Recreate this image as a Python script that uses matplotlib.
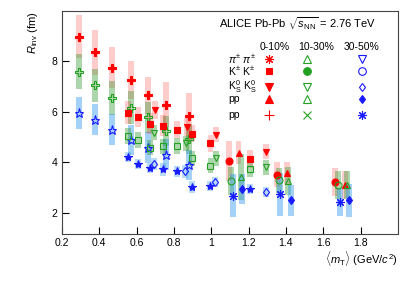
import matplotlib

matplotlib.use("Agg")
import matplotlib.pyplot as plt

plt.rcParams["font.family"] = ["Liberation Sans", "DejaVu Sans"]
plt.rcParams["mathtext.fontset"] = "custom"
plt.rcParams["mathtext.rm"] = "Liberation Sans"
plt.rcParams["mathtext.it"] = "Liberation Sans:italic"

RED = "#ff0000"
GREEN = "#22a022"
BLUE = "#1a1aff"
BAND_B = "#3399ee"

# pi pi
pi_c0_x = [0.29, 0.38, 0.47, 0.57, 0.66, 0.76, 0.88]
pi_c0_y = [8.99, 8.37, 7.76, 7.28, 6.66, 6.29, 5.83]
pi_c0_e = [0.87, 0.89, 0.82, 0.75, 0.74, 0.88, 0.94]
pi_c1_x = [0.29, 0.38, 0.47, 0.57, 0.66, 0.76, 0.88]
pi_c1_y = [7.60, 7.06, 6.55, 6.17, 5.78, 5.25, 4.92]
pi_c1_e = [0.71, 0.65, 0.68, 0.65, 0.62, 0.60, 0.60]
pi_c2_x = [0.29, 0.38, 0.47, 0.57, 0.66, 0.76, 0.88]
pi_c2_y = [5.97, 5.70, 5.29, 4.88, 4.59, 4.31, 3.89]
pi_c2_e = [0.63, 0.63, 0.62, 0.60, 0.60, 0.60, 0.60]
st_c2_x = [0.555, 0.608, 0.670, 0.740, 0.819, 0.898, 0.995, 1.21]
st_c2_y = [4.22, 3.95, 3.79, 3.72, 3.64, 3.03, 3.08, 2.95]
st_c2_e = [0.20, 0.20, 0.20, 0.25, 0.20, 0.25, 0.20, 0.20]

# K+- K+-
sq_c0_x = [0.555, 0.608, 0.670, 0.740, 0.819, 0.898, 0.996, 1.21]
sq_c0_y = [5.97, 5.80, 5.54, 5.46, 5.30, 5.14, 4.75, 4.13]
sq_c0_e = [0.45, 0.40, 0.40, 0.40, 0.35, 0.35, 0.35, 0.35]
sq_c1_x = [0.555, 0.608, 0.670, 0.740, 0.819, 0.898, 0.996, 1.21]
sq_c1_y = [5.05, 4.89, 4.59, 4.64, 4.65, 4.17, 3.86, 3.72]
sq_c1_e = [0.33, 0.30, 0.30, 0.30, 0.30, 0.30, 0.30, 0.30]
dm_c2_x = [0.691, 0.861, 1.021, 1.292]
dm_c2_y = [3.93, 3.65, 3.23, 2.81]
dm_c2_e = [0.25, 0.25, 0.20, 0.20]

# K0s K0s
dn_c0_x = [0.699, 0.869, 1.028, 1.292]
dn_c0_y = [6.08, 5.40, 5.10, 4.42]
dn_c0_e = [0.35, 0.35, 0.30, 0.30]
dn_c1_x = [0.692, 0.863, 1.028, 1.292]
dn_c1_y = [5.17, 4.75, 4.16, 3.80]
dn_c1_e = [0.30, 0.30, 0.30, 0.30]

# high mT
ci_c0_x = [1.096, 1.353, 1.665]
ci_c0_y = [4.05, 3.52, 3.23]
ci_c0_e = [0.80, 0.50, 0.55]
ci_c1_x = [1.107, 1.363, 1.677]
ci_c1_y = [3.27, 3.29, 3.10]
ci_c1_e = [0.55, 0.50, 0.55]
up_c0_x = [1.146, 1.404, 1.718]
up_c0_y = [4.38, 3.57, 3.10]
up_c0_e = [0.45, 0.45, 0.55]
up_c1_x = [1.158, 1.412, 1.727]
up_c1_y = [3.42, 3.27, 3.11]
up_c1_e = [0.90, 0.55, 0.55]
as_c2_x = [1.114, 1.368, 1.688]
as_c2_y = [2.68, 2.73, 2.44]
as_c2_e = [0.85, 0.85, 0.55]
fd_c2_x = [1.164, 1.425, 1.736]
fd_c2_y = [2.94, 2.49, 2.49]
fd_c2_e = [0.60, 0.60, 0.65]

ASTER = (8, 2, 0)

# (x, y, err, band colour, band alpha, marker, colour, filled, size)
SERIES = [
    (pi_c0_x, pi_c0_y, pi_c0_e, RED, 0.2, "P", RED, True, 5.5),
    (pi_c1_x, pi_c1_y, pi_c1_e, "#339933", 0.4, "P", GREEN, False, 5.5),
    (pi_c2_x, pi_c2_y, pi_c2_e, BAND_B, 0.45, "*", BLUE, False, 6.5),
    (st_c2_x, st_c2_y, st_c2_e, BAND_B, 0.35, "*", BLUE, True, 6),
    (sq_c0_x, sq_c0_y, sq_c0_e, RED, 0.2, "s", RED, True, 5),
    (sq_c1_x, sq_c1_y, sq_c1_e, "#339933", 0.4, "s", GREEN, False, 5),
    (dm_c2_x, dm_c2_y, dm_c2_e, BAND_B, 0.35, "d", BLUE, False, 4.5),
    (dn_c0_x, dn_c0_y, dn_c0_e, RED, 0.2, "v", RED, True, 5),
    (dn_c1_x, dn_c1_y, dn_c1_e, "#339933", 0.4, "v", GREEN, False, 5),
    (ci_c0_x, ci_c0_y, ci_c0_e, RED, 0.2, "o", RED, True, 5),
    (ci_c1_x, ci_c1_y, ci_c1_e, "#339933", 0.4, "o", GREEN, False, 5),
    (up_c0_x, up_c0_y, up_c0_e, RED, 0.2, "^", RED, True, 5),
    (up_c1_x, up_c1_y, up_c1_e, "#339933", 0.4, "^", GREEN, False, 5),
    (as_c2_x, as_c2_y, as_c2_e, BAND_B, 0.45, ASTER, BLUE, True, 6.5),
    (fd_c2_x, fd_c2_y, fd_c2_e, BAND_B, 0.45, "d", BLUE, True, 4.5),
]

fig = plt.figure(figsize=(4.15, 2.83), dpi=100)
ax = fig.add_axes([0.149, 0.173, 0.81, 0.788])

for x, y, e, bc, ba, mk, c, filled, ms in SERIES:
    ax.bar(x, [2 * v for v in e], bottom=[a - b for a, b in zip(y, e)],
           width=0.032, color=bc, alpha=ba, linewidth=0, zorder=1)
for x, y, e, bc, ba, mk, c, filled, ms in SERIES:
    ax.plot(x, y, linestyle="none", marker=mk, markersize=ms, color=c,
            markerfacecolor=c if filled else "none", markeredgewidth=0.8, zorder=3)

ax.set_xlim(0.2, 2.0)
ax.set_ylim(1.16, 10.0)
ax.set_xticks([0.2, 0.4, 0.6, 0.8, 1.0, 1.2, 1.4, 1.6, 1.8])
ax.set_xticklabels(["0.2", "0.4", "0.6", "0.8", "1", "1.2", "1.4", "1.6", "1.8"])
ax.set_yticks([2, 4, 6, 8])
ax.tick_params(direction="in", length=5, width=0.8, labelsize=7.5, pad=3)
for s in ax.spines.values():
    s.set_linewidth(0.8)
    s.set_color("#444444")

fig.text(0.08, 0.961, r"$R_{\rm inv}$ (fm)", rotation=90, ha="center", va="top", fontsize=8)
fig.text(0.959, 0.085, r"$\langle m_{\rm T}\rangle$ (GeV/$c^{2}$)", ha="right", va="center", fontsize=8)

# legend block
ax.text(0.702, 0.942, r"ALICE Pb-Pb $\sqrt{s_{\rm NN}}$ = 2.76 TeV", transform=ax.transAxes,
        ha="center", va="center", fontsize=8)
col_x = [0.616, 0.729, 0.893]
for hx, lab in zip([0.634, 0.756, 0.893], ["0-10%", "10-30%", "30-50%"]):
    ax.text(hx, 0.839, lab, transform=ax.transAxes, ha="center", va="center", fontsize=7.5)

row_lbl = [r"$\pi^{\pm}\ \pi^{\pm}$", r"K$^{\pm}$ K$^{\pm}$", r"K$^{0}_{\rm S}$ K$^{0}_{\rm S}$", "pp", "pp"]
row_y = [0.785, 0.731, 0.659, 0.605, 0.534]
row_mk = [
    [(ASTER, RED, False, 6.5), ("^", GREEN, False, 5.5), ("v", BLUE, False, 5.5)],
    [("s", RED, True, 5), ("o", GREEN, True, 5.5), ("o", BLUE, False, 5.5)],
    [("v", RED, True, 5.5), ("v", GREEN, False, 5.5), ("d", BLUE, False, 4.5)],
    [("^", RED, True, 5.5), ("^", GREEN, False, 5.5), ("d", BLUE, True, 4.5)],
    [("+", RED, True, 6.5), ("x", GREEN, True, 5.5), (ASTER, BLUE, True, 6.5)],
]
for lab, ry, mks in zip(row_lbl, row_y, row_mk):
    ax.text(0.494, ry, lab, transform=ax.transAxes, ha="left", va="center", fontsize=7.5)
    for cx, (mk, c, filled, ms) in zip(col_x, mks):
        ax.plot([cx], [ry], transform=ax.transAxes, marker=mk, markersize=ms, color=c,
                markerfacecolor=c if filled else "none", markeredgewidth=0.8,
                linestyle="none", clip_on=False)

fig.savefig("out.png", dpi=100)
